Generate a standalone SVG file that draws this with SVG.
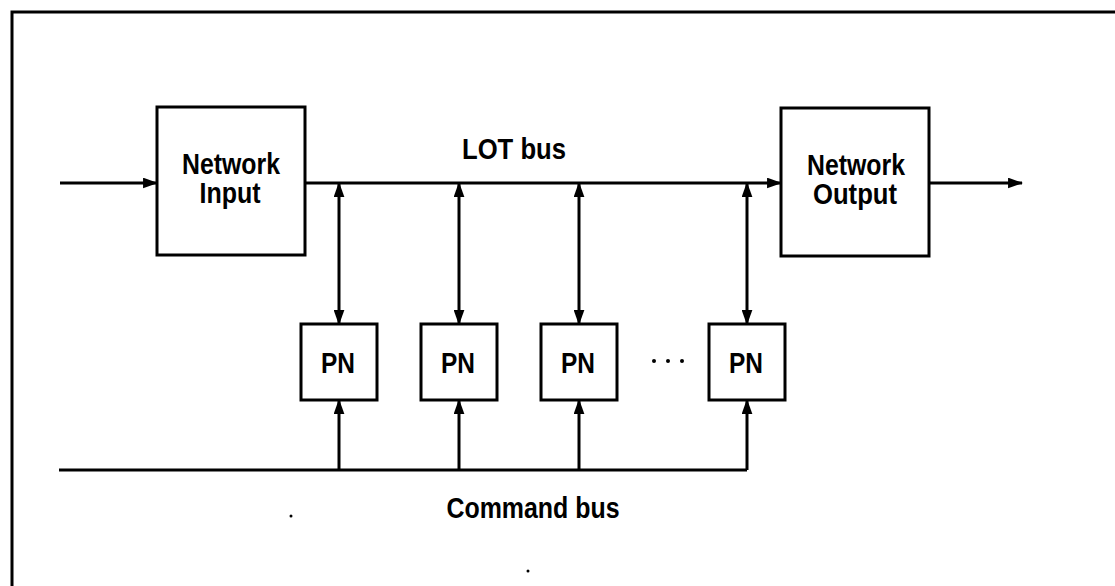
<svg xmlns="http://www.w3.org/2000/svg" width="1115" height="586" viewBox="0 0 1115 586">
<style>
.box{fill:#fff;stroke:#000;stroke-width:3}
.ln{fill:none;stroke:#000;stroke-width:3}
.t{font-family:"Liberation Sans",Arial,sans-serif;font-weight:bold;font-size:29px;fill:#000;text-anchor:middle}
</style>
<defs>
<marker id="ah" viewBox="0 0 14 10" refX="13" refY="5" markerWidth="15" markerHeight="11" markerUnits="userSpaceOnUse" orient="auto-start-reverse">
<path d="M0,0 L14,5 L0,10 z" fill="#000"/>
</marker>
</defs>
<rect width="1115" height="586" fill="#fff"/>
<path class="ln" d="M12,586 L12,12 L1115,12"/>
<g id="connectors">
<line class="ln" x1="60" y1="183" x2="157" y2="183" marker-end="url(#ah)"/>
<line class="ln" x1="305" y1="183" x2="781" y2="183" marker-end="url(#ah)"/>
<line class="ln" x1="929" y1="183" x2="1022" y2="183" marker-end="url(#ah)"/>
<line class="ln" x1="339" y1="183" x2="339" y2="324" marker-start="url(#ah)" marker-end="url(#ah)"/>
<line class="ln" x1="459" y1="183" x2="459" y2="324" marker-start="url(#ah)" marker-end="url(#ah)"/>
<line class="ln" x1="579" y1="183" x2="579" y2="324" marker-start="url(#ah)" marker-end="url(#ah)"/>
<line class="ln" x1="747" y1="183" x2="747" y2="324" marker-start="url(#ah)" marker-end="url(#ah)"/>
<path class="ln" d="M59,470 L747,470"/>
<line class="ln" x1="339" y1="470" x2="339" y2="400" marker-end="url(#ah)"/>
<line class="ln" x1="459" y1="470" x2="459" y2="400" marker-end="url(#ah)"/>
<line class="ln" x1="579" y1="470" x2="579" y2="400" marker-end="url(#ah)"/>
<line class="ln" x1="747" y1="470" x2="747" y2="400" marker-end="url(#ah)"/>
</g>
<g id="network-input">
<rect class="box" x="157" y="107" width="148" height="148"/>
<text class="t" x="231" y="174" textLength="98" lengthAdjust="spacingAndGlyphs">Network</text>
<text class="t" x="230" y="203" textLength="61" lengthAdjust="spacingAndGlyphs">Input</text>
</g>
<g id="network-output">
<rect class="box" x="781" y="108" width="148" height="148"/>
<text class="t" x="856" y="175" textLength="98" lengthAdjust="spacingAndGlyphs">Network</text>
<text class="t" x="855" y="204" textLength="84" lengthAdjust="spacingAndGlyphs">Output</text>
</g>
<g id="pn1"><rect class="box" x="301" y="324" width="76" height="76"/><text class="t" x="338" y="373" textLength="34" lengthAdjust="spacingAndGlyphs">PN</text></g>
<g id="pn2"><rect class="box" x="421" y="324" width="76" height="76"/><text class="t" x="458" y="373" textLength="34" lengthAdjust="spacingAndGlyphs">PN</text></g>
<g id="pn3"><rect class="box" x="541" y="324" width="76" height="76"/><text class="t" x="578" y="373" textLength="34" lengthAdjust="spacingAndGlyphs">PN</text></g>
<g id="pn4"><rect class="box" x="709" y="324" width="76" height="76"/><text class="t" x="746" y="373" textLength="34" lengthAdjust="spacingAndGlyphs">PN</text></g>
<g id="ellipsis">
<circle cx="654" cy="361" r="2" fill="#000"/>
<circle cx="668" cy="361" r="2" fill="#000"/>
<circle cx="682" cy="361" r="2" fill="#000"/>
</g>
<g id="labels">
<text class="t" x="514" y="159" textLength="104" lengthAdjust="spacingAndGlyphs">LOT bus</text>
<text class="t" x="533" y="518" textLength="173" lengthAdjust="spacingAndGlyphs">Command bus</text>
</g>
<circle cx="291" cy="516" r="1.5" fill="#000"/>
<circle cx="528" cy="571" r="1.5" fill="#000"/>
</svg>
